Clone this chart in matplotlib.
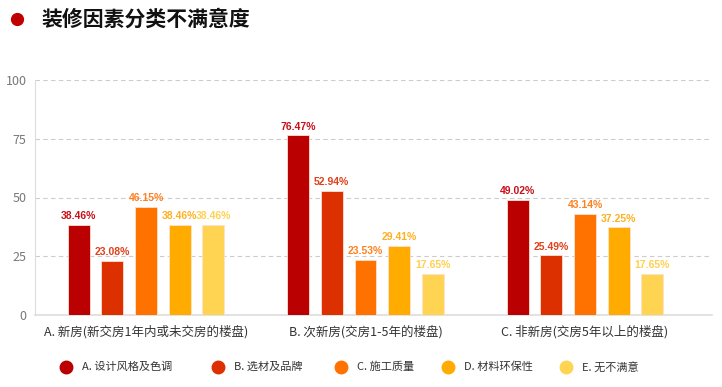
import matplotlib
matplotlib.use("Agg")
import matplotlib.pyplot as plt
import numpy as np
from matplotlib.lines import Line2D

plt.rcParams['font.family'] = ['Noto Sans CJK SC', 'DejaVu Sans']

title = "装修因素分类不满意度"
categories = ["A. 新房(新交房1年内或未交房的楼盘)", "B. 次新房(交房1-5年的楼盘)", "C. 非新房(交房5年以上的楼盘)"]
series_names = ["A. 设计风格及色调", "B. 选材及品牌", "C. 施工质量", "D. 材料环保性", "E. 无不满意"]
series_A = [38.46, 76.47, 49.02]
series_B = [23.08, 52.94, 25.49]
series_C = [46.15, 23.53, 43.14]
series_D = [38.46, 29.41, 37.25]
series_E = [38.46, 17.65, 17.65]
series = [series_A, series_B, series_C, series_D, series_E]
colors = ["#BA0000", "#DC3000", "#FF7200", "#FFAB00", "#FFD452"]
label_colors = ["#C8101A", "#E0401A", "#FF8020", "#FFB020", "#FFD050"]
yticks = [0, 25, 50, 75, 100]

fig = plt.figure(figsize=(7.22, 3.87), dpi=100)
W, H = 722, 387
ax = fig.add_axes([35 / W, 1 - 315 / H, (712 - 35) / W, (315 - 80) / H])

x = np.arange(len(categories))
step = 0.1535
width = 0.10
for i, (vals, c, lc) in enumerate(zip(series, colors, label_colors)):
    pos = x + (i - 2) * step
    bars = ax.bar(pos, vals, width=width, color=c, edgecolor="#FFE0D0", linewidth=0.6, zorder=3)
    for b, v in zip(bars, vals):
        ax.text(b.get_x() + b.get_width() / 2, v + 1.5, f"{v:.2f}%", ha="center", va="bottom",
                fontsize=7.5, fontweight="bold", color=lc, family=["Liberation Sans"], zorder=4)

xmin = -(146 - 35) / 219.5
ax.set_xlim(xmin, xmin + 677 / 219.5)
ax.set_ylim(0, 100)
ax.set_yticks(yticks)
ax.set_yticklabels([str(t) for t in yticks], color="#777777", fontsize=9)
ax.set_xticks(x)
ax.set_xticklabels(categories, fontsize=9, color="#333333")
ax.tick_params(axis="both", length=0, pad=6)
ax.tick_params(axis="x", pad=7)
for yy in yticks[1:]:
    ax.axhline(yy, color="#CCCCCC", linestyle=(0, (4, 3)), linewidth=0.8, zorder=1)
for s in ["top", "right"]:
    ax.spines[s].set_visible(False)
ax.spines["left"].set_color("#DDDDDD")
ax.spines["bottom"].set_color("#DDDDDD")
ax.spines["bottom"].set_linewidth(1.2)

# title
fig.add_artist(Line2D([17 / W], [1 - 19 / H], marker="o", markersize=8.5, color="#C00000", transform=fig.transFigure))
fig.text(42 / W, 1 - 19 / H, title, fontsize=15, fontweight="bold", va="center", ha="left", color="#111111")

# legend
mx = [66, 218, 341, 448, 566]
for xx, name, c in zip(mx, series_names, colors):
    fig.add_artist(Line2D([xx / W], [1 - 367 / H], marker="o", markersize=9, color=c,
                          transform=fig.transFigure, linestyle="none"))
    fig.text((xx + 16) / W, 1 - 367 / H, name, fontsize=8, va="center", ha="left", color="#333333")

fig.savefig("out.png", dpi=100)
